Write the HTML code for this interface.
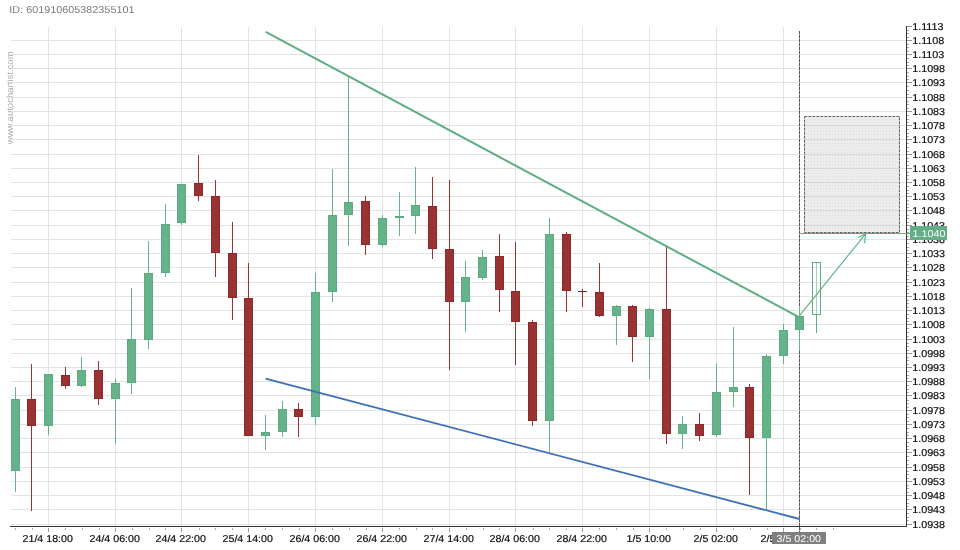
<!DOCTYPE html>
<html><head><meta charset="utf-8"><style>
html,body{margin:0;padding:0;background:#fff;}
body{width:960px;height:550px;overflow:hidden;position:relative;font-family:"Liberation Sans",sans-serif;}
svg{position:absolute;left:0;top:0;text-rendering:geometricPrecision;will-change:transform;}
</style></head><body>
<svg width="960" height="550" viewBox="0 0 960 550">
<defs>
<pattern id="dots" x="0" y="0" width="3" height="3" patternUnits="userSpaceOnUse"><rect x="1" y="2" width="1" height="1" fill="rgba(150,150,150,0.16)"/></pattern>
</defs>
<text transform="translate(9.3,12.9) scale(1.082,1)" font-family="Liberation Sans, sans-serif" font-size="10" fill="#7a7a7a">ID: 601910605382355101</text>
<text transform="translate(12.8,144.2) rotate(-90) scale(1.06,1)" font-family="Liberation Sans, sans-serif" font-size="9" fill="#a8a8a8">www.autochartist.com</text>
<g shape-rendering="crispEdges">
<rect x="11" y="40" width="895" height="1" fill="#e3e3e3"/>
<rect x="11" y="54" width="895" height="1" fill="#e3e3e3"/>
<rect x="11" y="68" width="895" height="1" fill="#e3e3e3"/>
<rect x="11" y="82" width="895" height="1" fill="#e3e3e3"/>
<rect x="11" y="97" width="895" height="1" fill="#e3e3e3"/>
<rect x="11" y="111" width="895" height="1" fill="#e3e3e3"/>
<rect x="11" y="125" width="895" height="1" fill="#e3e3e3"/>
<rect x="11" y="139" width="895" height="1" fill="#e3e3e3"/>
<rect x="11" y="154" width="895" height="1" fill="#e3e3e3"/>
<rect x="11" y="168" width="895" height="1" fill="#e3e3e3"/>
<rect x="11" y="182" width="895" height="1" fill="#e3e3e3"/>
<rect x="11" y="196" width="895" height="1" fill="#e3e3e3"/>
<rect x="11" y="210" width="895" height="1" fill="#e3e3e3"/>
<rect x="11" y="225" width="895" height="1" fill="#e3e3e3"/>
<rect x="11" y="239" width="895" height="1" fill="#e3e3e3"/>
<rect x="11" y="253" width="895" height="1" fill="#e3e3e3"/>
<rect x="11" y="267" width="895" height="1" fill="#e3e3e3"/>
<rect x="11" y="282" width="895" height="1" fill="#e3e3e3"/>
<rect x="11" y="296" width="895" height="1" fill="#e3e3e3"/>
<rect x="11" y="310" width="895" height="1" fill="#e3e3e3"/>
<rect x="11" y="324" width="895" height="1" fill="#e3e3e3"/>
<rect x="11" y="339" width="895" height="1" fill="#e3e3e3"/>
<rect x="11" y="353" width="895" height="1" fill="#e3e3e3"/>
<rect x="11" y="367" width="895" height="1" fill="#e3e3e3"/>
<rect x="11" y="381" width="895" height="1" fill="#e3e3e3"/>
<rect x="11" y="395" width="895" height="1" fill="#e3e3e3"/>
<rect x="11" y="410" width="895" height="1" fill="#e3e3e3"/>
<rect x="11" y="424" width="895" height="1" fill="#e3e3e3"/>
<rect x="11" y="438" width="895" height="1" fill="#e3e3e3"/>
<rect x="11" y="452" width="895" height="1" fill="#e3e3e3"/>
<rect x="11" y="467" width="895" height="1" fill="#e3e3e3"/>
<rect x="11" y="481" width="895" height="1" fill="#e3e3e3"/>
<rect x="11" y="495" width="895" height="1" fill="#e3e3e3"/>
<rect x="11" y="509" width="895" height="1" fill="#e3e3e3"/>
<rect x="11" y="524" width="895" height="1" fill="#e3e3e3"/>
<rect x="48" y="27" width="1" height="499" fill="#e3e3e3"/>
<rect x="115" y="27" width="1" height="499" fill="#e3e3e3"/>
<rect x="181" y="27" width="1" height="499" fill="#e3e3e3"/>
<rect x="248" y="27" width="1" height="499" fill="#e3e3e3"/>
<rect x="315" y="27" width="1" height="499" fill="#e3e3e3"/>
<rect x="382" y="27" width="1" height="499" fill="#e3e3e3"/>
<rect x="449" y="27" width="1" height="499" fill="#e3e3e3"/>
<rect x="515" y="27" width="1" height="499" fill="#e3e3e3"/>
<rect x="582" y="27" width="1" height="499" fill="#e3e3e3"/>
<rect x="649" y="27" width="1" height="499" fill="#e3e3e3"/>
<rect x="716" y="27" width="1" height="499" fill="#e3e3e3"/>
<rect x="783" y="27" width="1" height="499" fill="#e3e3e3"/>
<line x1="799.5" y1="31" x2="799.5" y2="532" stroke="#bbb" stroke-width="1" shape-rendering="auto"/>
<line x1="799.5" y1="31" x2="799.5" y2="532" stroke="#555" stroke-width="1" stroke-dasharray="3,1" shape-rendering="auto"/>
<rect x="15" y="387" width="1" height="105" fill="#66b28a"/>
<rect x="11" y="399" width="9" height="72" fill="#5caa80"/>
<rect x="12" y="400" width="7" height="70" fill="#66b28a"/>
<rect x="31" y="364" width="1" height="147" fill="#993333"/>
<rect x="27" y="399" width="9" height="27" fill="#902828"/>
<rect x="28" y="400" width="7" height="25" fill="#993333"/>
<rect x="48" y="374" width="1" height="61" fill="#66b28a"/>
<rect x="44" y="374" width="9" height="52" fill="#5caa80"/>
<rect x="45" y="375" width="7" height="50" fill="#66b28a"/>
<rect x="65" y="367" width="1" height="22" fill="#993333"/>
<rect x="61" y="375" width="9" height="11" fill="#902828"/>
<rect x="62" y="376" width="7" height="9" fill="#993333"/>
<rect x="81" y="357" width="1" height="30" fill="#66b28a"/>
<rect x="77" y="370" width="9" height="16" fill="#5caa80"/>
<rect x="78" y="371" width="7" height="14" fill="#66b28a"/>
<rect x="98" y="361" width="1" height="44" fill="#993333"/>
<rect x="94" y="370" width="9" height="29" fill="#902828"/>
<rect x="95" y="371" width="7" height="27" fill="#993333"/>
<rect x="115" y="379" width="1" height="65" fill="#66b28a"/>
<rect x="111" y="383" width="9" height="16" fill="#5caa80"/>
<rect x="112" y="384" width="7" height="14" fill="#66b28a"/>
<rect x="131" y="288" width="1" height="106" fill="#66b28a"/>
<rect x="127" y="339" width="9" height="44" fill="#5caa80"/>
<rect x="128" y="340" width="7" height="42" fill="#66b28a"/>
<rect x="148" y="241" width="1" height="108" fill="#66b28a"/>
<rect x="144" y="273" width="9" height="67" fill="#5caa80"/>
<rect x="145" y="274" width="7" height="65" fill="#66b28a"/>
<rect x="165" y="204" width="1" height="73" fill="#66b28a"/>
<rect x="161" y="224" width="9" height="49" fill="#5caa80"/>
<rect x="162" y="225" width="7" height="47" fill="#66b28a"/>
<rect x="181" y="184" width="1" height="41" fill="#66b28a"/>
<rect x="177" y="184" width="9" height="39" fill="#5caa80"/>
<rect x="178" y="185" width="7" height="37" fill="#66b28a"/>
<rect x="198" y="155" width="1" height="46" fill="#993333"/>
<rect x="194" y="183" width="9" height="13" fill="#902828"/>
<rect x="195" y="184" width="7" height="11" fill="#993333"/>
<rect x="215" y="180" width="1" height="97" fill="#993333"/>
<rect x="211" y="196" width="9" height="57" fill="#902828"/>
<rect x="212" y="197" width="7" height="55" fill="#993333"/>
<rect x="232" y="222" width="1" height="98" fill="#993333"/>
<rect x="228" y="253" width="9" height="45" fill="#902828"/>
<rect x="229" y="254" width="7" height="43" fill="#993333"/>
<rect x="248" y="263" width="1" height="173" fill="#993333"/>
<rect x="244" y="298" width="9" height="138" fill="#902828"/>
<rect x="245" y="299" width="7" height="136" fill="#993333"/>
<rect x="265" y="415" width="1" height="35" fill="#66b28a"/>
<rect x="261" y="432" width="9" height="4" fill="#5caa80"/>
<rect x="262" y="433" width="7" height="2" fill="#66b28a"/>
<rect x="282" y="401" width="1" height="36" fill="#66b28a"/>
<rect x="278" y="409" width="9" height="23" fill="#5caa80"/>
<rect x="279" y="410" width="7" height="21" fill="#66b28a"/>
<rect x="298" y="403" width="1" height="34" fill="#993333"/>
<rect x="294" y="409" width="9" height="8" fill="#902828"/>
<rect x="295" y="410" width="7" height="6" fill="#993333"/>
<rect x="315" y="273" width="1" height="152" fill="#66b28a"/>
<rect x="311" y="292" width="9" height="125" fill="#5caa80"/>
<rect x="312" y="293" width="7" height="123" fill="#66b28a"/>
<rect x="332" y="169" width="1" height="133" fill="#66b28a"/>
<rect x="328" y="215" width="9" height="77" fill="#5caa80"/>
<rect x="329" y="216" width="7" height="75" fill="#66b28a"/>
<rect x="348" y="75" width="1" height="171" fill="#66b28a"/>
<rect x="344" y="202" width="9" height="13" fill="#5caa80"/>
<rect x="345" y="203" width="7" height="11" fill="#66b28a"/>
<rect x="365" y="196" width="1" height="59" fill="#993333"/>
<rect x="361" y="201" width="9" height="44" fill="#902828"/>
<rect x="362" y="202" width="7" height="42" fill="#993333"/>
<rect x="382" y="215" width="1" height="32" fill="#66b28a"/>
<rect x="378" y="218" width="9" height="27" fill="#5caa80"/>
<rect x="379" y="219" width="7" height="25" fill="#66b28a"/>
<rect x="399" y="192" width="1" height="44" fill="#66b28a"/>
<rect x="395" y="216" width="9" height="2" fill="#5caa80"/>
<rect x="415" y="167" width="1" height="67" fill="#66b28a"/>
<rect x="411" y="205" width="9" height="11" fill="#5caa80"/>
<rect x="412" y="206" width="7" height="9" fill="#66b28a"/>
<rect x="432" y="177" width="1" height="82" fill="#993333"/>
<rect x="428" y="206" width="9" height="43" fill="#902828"/>
<rect x="429" y="207" width="7" height="41" fill="#993333"/>
<rect x="449" y="180" width="1" height="190" fill="#993333"/>
<rect x="445" y="249" width="9" height="53" fill="#902828"/>
<rect x="446" y="250" width="7" height="51" fill="#993333"/>
<rect x="465" y="261" width="1" height="71" fill="#66b28a"/>
<rect x="461" y="277" width="9" height="25" fill="#5caa80"/>
<rect x="462" y="278" width="7" height="23" fill="#66b28a"/>
<rect x="482" y="250" width="1" height="30" fill="#66b28a"/>
<rect x="478" y="257" width="9" height="21" fill="#5caa80"/>
<rect x="479" y="258" width="7" height="19" fill="#66b28a"/>
<rect x="499" y="234" width="1" height="78" fill="#993333"/>
<rect x="495" y="256" width="9" height="34" fill="#902828"/>
<rect x="496" y="257" width="7" height="32" fill="#993333"/>
<rect x="515" y="242" width="1" height="123" fill="#993333"/>
<rect x="511" y="291" width="9" height="31" fill="#902828"/>
<rect x="512" y="292" width="7" height="29" fill="#993333"/>
<rect x="532" y="320" width="1" height="106" fill="#993333"/>
<rect x="528" y="322" width="9" height="99" fill="#902828"/>
<rect x="529" y="323" width="7" height="97" fill="#993333"/>
<rect x="549" y="218" width="1" height="234" fill="#66b28a"/>
<rect x="545" y="234" width="9" height="187" fill="#5caa80"/>
<rect x="546" y="235" width="7" height="185" fill="#66b28a"/>
<rect x="566" y="232" width="1" height="80" fill="#993333"/>
<rect x="562" y="234" width="9" height="57" fill="#902828"/>
<rect x="563" y="235" width="7" height="55" fill="#993333"/>
<rect x="582" y="289" width="1" height="18" fill="#993333"/>
<rect x="578" y="291" width="9" height="1" fill="#902828"/>
<rect x="599" y="263" width="1" height="54" fill="#993333"/>
<rect x="595" y="292" width="9" height="24" fill="#902828"/>
<rect x="596" y="293" width="7" height="22" fill="#993333"/>
<rect x="616" y="305" width="1" height="40" fill="#66b28a"/>
<rect x="612" y="306" width="9" height="10" fill="#5caa80"/>
<rect x="613" y="307" width="7" height="8" fill="#66b28a"/>
<rect x="632" y="305" width="1" height="57" fill="#993333"/>
<rect x="628" y="306" width="9" height="31" fill="#902828"/>
<rect x="629" y="307" width="7" height="29" fill="#993333"/>
<rect x="649" y="308" width="1" height="71" fill="#66b28a"/>
<rect x="645" y="309" width="9" height="28" fill="#5caa80"/>
<rect x="646" y="310" width="7" height="26" fill="#66b28a"/>
<rect x="666" y="247" width="1" height="197" fill="#993333"/>
<rect x="662" y="309" width="9" height="125" fill="#902828"/>
<rect x="663" y="310" width="7" height="123" fill="#993333"/>
<rect x="682" y="416" width="1" height="33" fill="#66b28a"/>
<rect x="678" y="424" width="9" height="10" fill="#5caa80"/>
<rect x="679" y="425" width="7" height="8" fill="#66b28a"/>
<rect x="699" y="413" width="1" height="28" fill="#993333"/>
<rect x="695" y="424" width="9" height="12" fill="#902828"/>
<rect x="696" y="425" width="7" height="10" fill="#993333"/>
<rect x="716" y="363" width="1" height="74" fill="#66b28a"/>
<rect x="712" y="392" width="9" height="43" fill="#5caa80"/>
<rect x="713" y="393" width="7" height="41" fill="#66b28a"/>
<rect x="733" y="327" width="1" height="80" fill="#66b28a"/>
<rect x="729" y="387" width="9" height="5" fill="#5caa80"/>
<rect x="730" y="388" width="7" height="3" fill="#66b28a"/>
<rect x="749" y="384" width="1" height="111" fill="#993333"/>
<rect x="745" y="387" width="9" height="51" fill="#902828"/>
<rect x="746" y="388" width="7" height="49" fill="#993333"/>
<rect x="766" y="354" width="1" height="156" fill="#66b28a"/>
<rect x="762" y="356" width="9" height="82" fill="#5caa80"/>
<rect x="763" y="357" width="7" height="80" fill="#66b28a"/>
<rect x="783" y="324" width="1" height="40" fill="#66b28a"/>
<rect x="779" y="330" width="9" height="26" fill="#5caa80"/>
<rect x="780" y="331" width="7" height="24" fill="#66b28a"/>
<rect x="799" y="307" width="1" height="44" fill="#66b28a"/>
<rect x="795" y="316" width="9" height="14" fill="#5caa80"/>
<rect x="796" y="317" width="7" height="12" fill="#66b28a"/>
<rect x="907" y="26" width="5" height="1" fill="#999"/>
<rect x="907" y="30" width="2" height="1" fill="#aaa"/>
<rect x="907" y="33" width="2" height="1" fill="#aaa"/>
<rect x="907" y="37" width="2" height="1" fill="#aaa"/>
<rect x="907" y="40" width="5" height="1" fill="#999"/>
<rect x="907" y="44" width="2" height="1" fill="#aaa"/>
<rect x="907" y="47" width="2" height="1" fill="#aaa"/>
<rect x="907" y="51" width="2" height="1" fill="#aaa"/>
<rect x="907" y="54" width="5" height="1" fill="#999"/>
<rect x="907" y="58" width="2" height="1" fill="#aaa"/>
<rect x="907" y="62" width="2" height="1" fill="#aaa"/>
<rect x="907" y="65" width="2" height="1" fill="#aaa"/>
<rect x="907" y="68" width="5" height="1" fill="#999"/>
<rect x="907" y="72" width="2" height="1" fill="#aaa"/>
<rect x="907" y="76" width="2" height="1" fill="#aaa"/>
<rect x="907" y="79" width="2" height="1" fill="#aaa"/>
<rect x="907" y="82" width="5" height="1" fill="#999"/>
<rect x="907" y="86" width="2" height="1" fill="#aaa"/>
<rect x="907" y="90" width="2" height="1" fill="#aaa"/>
<rect x="907" y="94" width="2" height="1" fill="#aaa"/>
<rect x="907" y="97" width="5" height="1" fill="#999"/>
<rect x="907" y="101" width="2" height="1" fill="#aaa"/>
<rect x="907" y="104" width="2" height="1" fill="#aaa"/>
<rect x="907" y="108" width="2" height="1" fill="#aaa"/>
<rect x="907" y="111" width="5" height="1" fill="#999"/>
<rect x="907" y="115" width="2" height="1" fill="#aaa"/>
<rect x="907" y="119" width="2" height="1" fill="#aaa"/>
<rect x="907" y="122" width="2" height="1" fill="#aaa"/>
<rect x="907" y="125" width="5" height="1" fill="#999"/>
<rect x="907" y="129" width="2" height="1" fill="#aaa"/>
<rect x="907" y="133" width="2" height="1" fill="#aaa"/>
<rect x="907" y="136" width="2" height="1" fill="#aaa"/>
<rect x="907" y="139" width="5" height="1" fill="#999"/>
<rect x="907" y="143" width="2" height="1" fill="#aaa"/>
<rect x="907" y="147" width="2" height="1" fill="#aaa"/>
<rect x="907" y="151" width="2" height="1" fill="#aaa"/>
<rect x="907" y="154" width="5" height="1" fill="#999"/>
<rect x="907" y="158" width="2" height="1" fill="#aaa"/>
<rect x="907" y="161" width="2" height="1" fill="#aaa"/>
<rect x="907" y="165" width="2" height="1" fill="#aaa"/>
<rect x="907" y="168" width="5" height="1" fill="#999"/>
<rect x="907" y="172" width="2" height="1" fill="#aaa"/>
<rect x="907" y="175" width="2" height="1" fill="#aaa"/>
<rect x="907" y="179" width="2" height="1" fill="#aaa"/>
<rect x="907" y="182" width="5" height="1" fill="#999"/>
<rect x="907" y="186" width="2" height="1" fill="#aaa"/>
<rect x="907" y="190" width="2" height="1" fill="#aaa"/>
<rect x="907" y="193" width="2" height="1" fill="#aaa"/>
<rect x="907" y="196" width="5" height="1" fill="#999"/>
<rect x="907" y="200" width="2" height="1" fill="#aaa"/>
<rect x="907" y="204" width="2" height="1" fill="#aaa"/>
<rect x="907" y="207" width="2" height="1" fill="#aaa"/>
<rect x="907" y="210" width="5" height="1" fill="#999"/>
<rect x="907" y="215" width="2" height="1" fill="#aaa"/>
<rect x="907" y="218" width="2" height="1" fill="#aaa"/>
<rect x="907" y="222" width="2" height="1" fill="#aaa"/>
<rect x="907" y="225" width="5" height="1" fill="#999"/>
<rect x="907" y="229" width="2" height="1" fill="#aaa"/>
<rect x="907" y="232" width="2" height="1" fill="#aaa"/>
<rect x="907" y="236" width="2" height="1" fill="#aaa"/>
<rect x="907" y="239" width="5" height="1" fill="#999"/>
<rect x="907" y="243" width="2" height="1" fill="#aaa"/>
<rect x="907" y="247" width="2" height="1" fill="#aaa"/>
<rect x="907" y="250" width="2" height="1" fill="#aaa"/>
<rect x="907" y="253" width="5" height="1" fill="#999"/>
<rect x="907" y="257" width="2" height="1" fill="#aaa"/>
<rect x="907" y="261" width="2" height="1" fill="#aaa"/>
<rect x="907" y="264" width="2" height="1" fill="#aaa"/>
<rect x="907" y="267" width="5" height="1" fill="#999"/>
<rect x="907" y="271" width="2" height="1" fill="#aaa"/>
<rect x="907" y="275" width="2" height="1" fill="#aaa"/>
<rect x="907" y="279" width="2" height="1" fill="#aaa"/>
<rect x="907" y="282" width="5" height="1" fill="#999"/>
<rect x="907" y="286" width="2" height="1" fill="#aaa"/>
<rect x="907" y="289" width="2" height="1" fill="#aaa"/>
<rect x="907" y="293" width="2" height="1" fill="#aaa"/>
<rect x="907" y="296" width="5" height="1" fill="#999"/>
<rect x="907" y="300" width="2" height="1" fill="#aaa"/>
<rect x="907" y="303" width="2" height="1" fill="#aaa"/>
<rect x="907" y="307" width="2" height="1" fill="#aaa"/>
<rect x="907" y="310" width="5" height="1" fill="#999"/>
<rect x="907" y="314" width="2" height="1" fill="#aaa"/>
<rect x="907" y="318" width="2" height="1" fill="#aaa"/>
<rect x="907" y="321" width="2" height="1" fill="#aaa"/>
<rect x="907" y="324" width="5" height="1" fill="#999"/>
<rect x="907" y="328" width="2" height="1" fill="#aaa"/>
<rect x="907" y="332" width="2" height="1" fill="#aaa"/>
<rect x="907" y="336" width="2" height="1" fill="#aaa"/>
<rect x="907" y="339" width="5" height="1" fill="#999"/>
<rect x="907" y="343" width="2" height="1" fill="#aaa"/>
<rect x="907" y="346" width="2" height="1" fill="#aaa"/>
<rect x="907" y="350" width="2" height="1" fill="#aaa"/>
<rect x="907" y="353" width="5" height="1" fill="#999"/>
<rect x="907" y="357" width="2" height="1" fill="#aaa"/>
<rect x="907" y="360" width="2" height="1" fill="#aaa"/>
<rect x="907" y="364" width="2" height="1" fill="#aaa"/>
<rect x="907" y="367" width="5" height="1" fill="#999"/>
<rect x="907" y="371" width="2" height="1" fill="#aaa"/>
<rect x="907" y="375" width="2" height="1" fill="#aaa"/>
<rect x="907" y="378" width="2" height="1" fill="#aaa"/>
<rect x="907" y="381" width="5" height="1" fill="#999"/>
<rect x="907" y="385" width="2" height="1" fill="#aaa"/>
<rect x="907" y="389" width="2" height="1" fill="#aaa"/>
<rect x="907" y="392" width="2" height="1" fill="#aaa"/>
<rect x="907" y="395" width="5" height="1" fill="#999"/>
<rect x="907" y="400" width="2" height="1" fill="#aaa"/>
<rect x="907" y="403" width="2" height="1" fill="#aaa"/>
<rect x="907" y="407" width="2" height="1" fill="#aaa"/>
<rect x="907" y="410" width="5" height="1" fill="#999"/>
<rect x="907" y="414" width="2" height="1" fill="#aaa"/>
<rect x="907" y="417" width="2" height="1" fill="#aaa"/>
<rect x="907" y="421" width="2" height="1" fill="#aaa"/>
<rect x="907" y="424" width="5" height="1" fill="#999"/>
<rect x="907" y="428" width="2" height="1" fill="#aaa"/>
<rect x="907" y="432" width="2" height="1" fill="#aaa"/>
<rect x="907" y="435" width="2" height="1" fill="#aaa"/>
<rect x="907" y="438" width="5" height="1" fill="#999"/>
<rect x="907" y="442" width="2" height="1" fill="#aaa"/>
<rect x="907" y="446" width="2" height="1" fill="#aaa"/>
<rect x="907" y="449" width="2" height="1" fill="#aaa"/>
<rect x="907" y="452" width="5" height="1" fill="#999"/>
<rect x="907" y="456" width="2" height="1" fill="#aaa"/>
<rect x="907" y="460" width="2" height="1" fill="#aaa"/>
<rect x="907" y="464" width="2" height="1" fill="#aaa"/>
<rect x="907" y="467" width="5" height="1" fill="#999"/>
<rect x="907" y="471" width="2" height="1" fill="#aaa"/>
<rect x="907" y="474" width="2" height="1" fill="#aaa"/>
<rect x="907" y="478" width="2" height="1" fill="#aaa"/>
<rect x="907" y="481" width="5" height="1" fill="#999"/>
<rect x="907" y="485" width="2" height="1" fill="#aaa"/>
<rect x="907" y="488" width="2" height="1" fill="#aaa"/>
<rect x="907" y="492" width="2" height="1" fill="#aaa"/>
<rect x="907" y="495" width="5" height="1" fill="#999"/>
<rect x="907" y="499" width="2" height="1" fill="#aaa"/>
<rect x="907" y="503" width="2" height="1" fill="#aaa"/>
<rect x="907" y="506" width="2" height="1" fill="#aaa"/>
<rect x="907" y="509" width="5" height="1" fill="#999"/>
<rect x="907" y="513" width="2" height="1" fill="#aaa"/>
<rect x="907" y="517" width="2" height="1" fill="#aaa"/>
<rect x="907" y="520" width="2" height="1" fill="#aaa"/>
<rect x="907" y="524" width="5" height="1" fill="#999"/>
<rect x="15" y="528" width="1" height="2" fill="#ababab"/>
<rect x="32" y="528" width="1" height="2" fill="#ababab"/>
<rect x="48" y="528" width="1" height="4" fill="#9a9a9a"/>
<rect x="65" y="528" width="1" height="2" fill="#ababab"/>
<rect x="82" y="528" width="1" height="2" fill="#ababab"/>
<rect x="99" y="528" width="1" height="2" fill="#ababab"/>
<rect x="115" y="528" width="1" height="4" fill="#9a9a9a"/>
<rect x="132" y="528" width="1" height="2" fill="#ababab"/>
<rect x="149" y="528" width="1" height="2" fill="#ababab"/>
<rect x="165" y="528" width="1" height="2" fill="#ababab"/>
<rect x="181" y="528" width="1" height="4" fill="#9a9a9a"/>
<rect x="199" y="528" width="1" height="2" fill="#ababab"/>
<rect x="215" y="528" width="1" height="2" fill="#ababab"/>
<rect x="232" y="528" width="1" height="2" fill="#ababab"/>
<rect x="248" y="528" width="1" height="4" fill="#9a9a9a"/>
<rect x="265" y="528" width="1" height="2" fill="#ababab"/>
<rect x="282" y="528" width="1" height="2" fill="#ababab"/>
<rect x="299" y="528" width="1" height="2" fill="#ababab"/>
<rect x="315" y="528" width="1" height="4" fill="#9a9a9a"/>
<rect x="332" y="528" width="1" height="2" fill="#ababab"/>
<rect x="349" y="528" width="1" height="2" fill="#ababab"/>
<rect x="366" y="528" width="1" height="2" fill="#ababab"/>
<rect x="382" y="528" width="1" height="4" fill="#9a9a9a"/>
<rect x="399" y="528" width="1" height="2" fill="#ababab"/>
<rect x="416" y="528" width="1" height="2" fill="#ababab"/>
<rect x="432" y="528" width="1" height="2" fill="#ababab"/>
<rect x="449" y="528" width="1" height="4" fill="#9a9a9a"/>
<rect x="466" y="528" width="1" height="2" fill="#ababab"/>
<rect x="483" y="528" width="1" height="2" fill="#ababab"/>
<rect x="499" y="528" width="1" height="2" fill="#ababab"/>
<rect x="515" y="528" width="1" height="4" fill="#9a9a9a"/>
<rect x="533" y="528" width="1" height="2" fill="#ababab"/>
<rect x="549" y="528" width="1" height="2" fill="#ababab"/>
<rect x="566" y="528" width="1" height="2" fill="#ababab"/>
<rect x="582" y="528" width="1" height="4" fill="#9a9a9a"/>
<rect x="599" y="528" width="1" height="2" fill="#ababab"/>
<rect x="616" y="528" width="1" height="2" fill="#ababab"/>
<rect x="633" y="528" width="1" height="2" fill="#ababab"/>
<rect x="649" y="528" width="1" height="4" fill="#9a9a9a"/>
<rect x="666" y="528" width="1" height="2" fill="#ababab"/>
<rect x="683" y="528" width="1" height="2" fill="#ababab"/>
<rect x="700" y="528" width="1" height="2" fill="#ababab"/>
<rect x="716" y="528" width="1" height="4" fill="#9a9a9a"/>
<rect x="733" y="528" width="1" height="2" fill="#ababab"/>
<rect x="750" y="528" width="1" height="2" fill="#ababab"/>
<rect x="767" y="528" width="1" height="2" fill="#ababab"/>
<rect x="783" y="528" width="1" height="4" fill="#9a9a9a"/>
<rect x="800" y="528" width="1" height="2" fill="#ababab"/>
<rect x="816" y="528" width="1" height="2" fill="#ababab"/>
<rect x="833" y="528" width="1" height="2" fill="#ababab"/>
<g font-family="Liberation Sans, sans-serif" font-size="10" fill="#0a0a0a" stroke="#0a0a0a" stroke-width="0.18"><text transform="translate(912.2,30.00) scale(1.075,1)">1.1113</text><text transform="translate(912.2,44.00) scale(1.075,1)">1.1108</text><text transform="translate(912.2,58.00) scale(1.075,1)">1.1103</text><text transform="translate(912.2,72.00) scale(1.075,1)">1.1098</text><text transform="translate(912.2,86.00) scale(1.075,1)">1.1093</text><text transform="translate(912.2,101.00) scale(1.075,1)">1.1088</text><text transform="translate(912.2,115.00) scale(1.075,1)">1.1083</text><text transform="translate(912.2,129.00) scale(1.075,1)">1.1078</text><text transform="translate(912.2,143.00) scale(1.075,1)">1.1073</text><text transform="translate(912.2,158.00) scale(1.075,1)">1.1068</text><text transform="translate(912.2,172.00) scale(1.075,1)">1.1063</text><text transform="translate(912.2,186.00) scale(1.075,1)">1.1058</text><text transform="translate(912.2,200.00) scale(1.075,1)">1.1053</text><text transform="translate(912.2,214.00) scale(1.075,1)">1.1048</text><text transform="translate(912.2,229.00) scale(1.075,1)">1.1043</text><text transform="translate(912.2,243.00) scale(1.075,1)">1.1038</text><text transform="translate(912.2,257.00) scale(1.075,1)">1.1033</text><text transform="translate(912.2,271.00) scale(1.075,1)">1.1028</text><text transform="translate(912.2,286.00) scale(1.075,1)">1.1023</text><text transform="translate(912.2,300.00) scale(1.075,1)">1.1018</text><text transform="translate(912.2,314.00) scale(1.075,1)">1.1013</text><text transform="translate(912.2,328.00) scale(1.075,1)">1.1008</text><text transform="translate(912.2,343.00) scale(1.075,1)">1.1003</text><text transform="translate(912.2,357.00) scale(1.075,1)">1.0998</text><text transform="translate(912.2,371.00) scale(1.075,1)">1.0993</text><text transform="translate(912.2,385.00) scale(1.075,1)">1.0988</text><text transform="translate(912.2,399.00) scale(1.075,1)">1.0983</text><text transform="translate(912.2,414.00) scale(1.075,1)">1.0978</text><text transform="translate(912.2,428.00) scale(1.075,1)">1.0973</text><text transform="translate(912.2,442.00) scale(1.075,1)">1.0968</text><text transform="translate(912.2,456.00) scale(1.075,1)">1.0963</text><text transform="translate(912.2,471.00) scale(1.075,1)">1.0958</text><text transform="translate(912.2,485.00) scale(1.075,1)">1.0953</text><text transform="translate(912.2,499.00) scale(1.075,1)">1.0948</text><text transform="translate(912.2,513.00) scale(1.075,1)">1.0943</text><text transform="translate(912.2,528.00) scale(1.075,1)">1.0938</text><text transform="translate(47.7,541.9) scale(1.064,1)" text-anchor="middle">21/4 18:00</text><text transform="translate(114.7,541.9) scale(1.064,1)" text-anchor="middle">24/4 06:00</text><text transform="translate(180.7,541.9) scale(1.064,1)" text-anchor="middle">24/4 22:00</text><text transform="translate(247.7,541.9) scale(1.064,1)" text-anchor="middle">25/4 14:00</text><text transform="translate(314.7,541.9) scale(1.064,1)" text-anchor="middle">26/4 06:00</text><text transform="translate(381.7,541.9) scale(1.064,1)" text-anchor="middle">26/4 22:00</text><text transform="translate(448.7,541.9) scale(1.064,1)" text-anchor="middle">27/4 14:00</text><text transform="translate(514.7,541.9) scale(1.064,1)" text-anchor="middle">28/4 06:00</text><text transform="translate(581.7,541.9) scale(1.064,1)" text-anchor="middle">28/4 22:00</text><text transform="translate(648.7,541.9) scale(1.064,1)" text-anchor="middle">1/5 10:00</text><text transform="translate(715.7,541.9) scale(1.064,1)" text-anchor="middle">2/5 02:00</text><text transform="translate(782.7,541.9) scale(1.064,1)" text-anchor="middle">2/5 18:00</text></g>
</g>
<!-- axes -->
<g shape-rendering="crispEdges">
<rect x="10" y="526" width="897" height="1" fill="#333"/>
<rect x="906" y="26" width="1" height="501" fill="#333"/>
</g>
<!-- gray projection box -->
<rect x="804.5" y="116.5" width="95" height="116" fill="rgba(185,185,185,0.27)"/>
<rect x="804.5" y="116.5" width="95" height="116" fill="url(#dots)" stroke="#c4c4c4" stroke-width="1"/>
<rect x="804.5" y="116.5" width="95" height="116" fill="none" stroke="#666" stroke-width="1" stroke-dasharray="2.5,1.5"/>
<!-- green horizontal to label -->
<line x1="799.5" y1="233.5" x2="910" y2="233.5" stroke="#5cad82" stroke-width="1.2"/>
<!-- trend lines -->
<line x1="265.7" y1="31.9" x2="799" y2="317.2" stroke="#5cad82" stroke-width="2"/>
<line x1="265.5" y1="378.6" x2="799.5" y2="519.0" stroke="#3f70b5" stroke-width="1.9"/>
<!-- projection -->
<g shape-rendering="crispEdges">
<rect x="816" y="314" width="1" height="19" fill="#5cad82"/>
<rect x="812.5" y="262.5" width="8" height="52" fill="none" stroke="#5cad82" stroke-width="1"/>
<rect x="816" y="263" width="1" height="51" fill="#a8d0c0"/>
</g>
<!-- arrow -->
<line x1="799.5" y1="315.6" x2="865.6" y2="233.8" stroke="#5cad82" stroke-width="1.1"/>
<polyline points="858.4,237.2 865.6,233.8 864.6,242.6" fill="none" stroke="#5cad82" stroke-width="1.1" stroke-linecap="round" stroke-linejoin="round"/>
<!-- labels -->
<rect x="910" y="226" width="37" height="14" fill="#62ae86"/>
<text transform="translate(912.6,236.8) scale(1.075,1)" font-family="Liberation Sans, sans-serif" font-size="10" fill="#fff">1.1040</text>
<rect x="772" y="532" width="54" height="12" fill="#7f7f7f"/>
<text transform="translate(798.8,541.9) scale(1.064,1)" text-anchor="middle" font-family="Liberation Sans, sans-serif" font-size="10" fill="#fff">3/5 02:00</text>
</svg>
</body></html>
